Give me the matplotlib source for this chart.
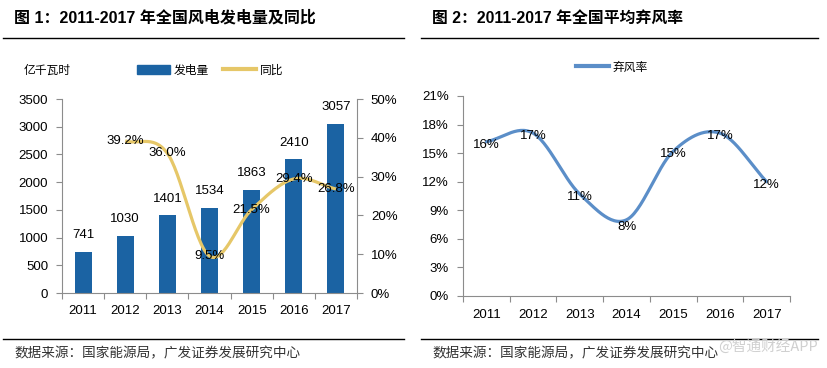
import numpy as np
import matplotlib
matplotlib.use("Agg")
import matplotlib.pyplot as plt
from matplotlib.lines import Line2D
from matplotlib.patches import Patch

plt.rcParams['font.family'] = ['Liberation Sans', 'Noto Sans CJK SC', 'DejaVu Sans']

# ---- data ----
years = ['2011', '2012', '2013', '2014', '2015', '2016', '2017']
generation = [741, 1030, 1401, 1534, 1863, 2410, 3057]
yoy_years_idx = [1, 2, 3, 4, 5, 6]
yoy = [39.2, 36.0, 9.5, 21.5, 29.4, 26.8]
curtail = [16.2, 17.1, 10.7, 8.0, 15.2, 17.1, 12.0]
curtail_labels = ['16%', '17%', '11%', '8%', '15%', '17%', '12%']

title1 = '图 1：2011-2017 年全国风电发电量及同比'
title2 = '图 2：2011-2017 年全国平均弃风率'
source = '数据来源：国家能源局，广发证券发展研究中心'

W, H = 827, 368
BAR = '#1b63a3'
GOLD = '#e6c768'
LBLUE = '#5b8ec8'
SPINE = '#8c8c8c'
CJK = ['Noto Sans CJK SC', 'DejaVu Sans']


def smooth(xs, ys, n=30):
    xs = np.asarray(xs, float); ys = np.asarray(ys, float)
    px = np.concatenate([[2 * xs[0] - xs[1]], xs, [2 * xs[-1] - xs[-2]]])
    py = np.concatenate([[2 * ys[0] - ys[1]], ys, [2 * ys[-1] - ys[-2]]])
    ox, oy = [], []
    for i in range(1, len(px) - 2):
        t = np.linspace(0, 1, n, endpoint=False) if i < len(px) - 3 else np.linspace(0, 1, n)
        for arr, out in ((px, ox), (py, oy)):
            p0, p1, p2, p3 = arr[i - 1], arr[i], arr[i + 1], arr[i + 2]
            out.extend(0.5 * ((2 * p1) + (-p0 + p2) * t + (2 * p0 - 5 * p1 + 4 * p2 - p3) * t ** 2
                              + (-p0 + 3 * p1 - 3 * p2 + p3) * t ** 3))
    return np.array(ox), np.array(oy)


def px_axes(l, t, r, b):
    return fig.add_axes([l / W, (H - b) / H, (r - l) / W, (b - t) / H])


fig = plt.figure(figsize=(W / 100, H / 100), dpi=100)

# titles, rules, sources
fig.text(14 / W, 1 - 18 / H, title1, fontsize=11.5, fontweight='bold', va='center', ha='left', family=['Liberation Sans', 'Noto Sans CJK SC'])
fig.text(432 / W, 1 - 18 / H, title2, fontsize=11.4, fontweight='bold', va='center', ha='left', family=['Liberation Sans', 'Noto Sans CJK SC'])
for x0, x1 in ((3, 404), (421, 818)):
    for y in (38, 339):
        fig.add_artist(Line2D([x0 / W, x1 / W], [1 - y / H, 1 - y / H], color='black', lw=1.0))
fig.text(14 / W, 1 - 353 / H, source, fontsize=9.8, va='center', ha='left', family=CJK, color='#333333')
fig.text(432 / W, 1 - 353 / H, source, fontsize=9.8, va='center', ha='left', family=CJK, color='#333333')
fig.text(818 / W, 1 - 346 / H, '@智通财经APP', fontsize=10.5, va='center', ha='right', family=CJK, color='#d0d0d0')

# ---- chart 1 ----
ax = px_axes(62, 99, 357, 293)
x = np.arange(len(years))
ax.bar(x, generation, width=0.4, color=BAR, zorder=2)
ax.set_xlim(-0.5, len(years) - 0.5)
ax.set_ylim(0, 3500)
ax.set_yticks(np.arange(0, 3501, 500))
ax.set_xticks(np.arange(-0.5, len(years), 1.0))
ax.set_xticklabels([])
ax.set_xticks(x, minor=True)
ax.set_xticklabels(years, minor=True)
ax.tick_params(axis='x', which='major', length=4, color=SPINE, direction='out')
ax.tick_params(axis='x', which='minor', length=0, pad=9, labelsize=9.5)
ax.tick_params(axis='y', length=4, color=SPINE, labelsize=9.5, pad=6)
for s in ('top', 'right'):
    ax.spines[s].set_visible(False)
for s in ('left', 'bottom'):
    ax.spines[s].set_color(SPINE)
for xi, v in zip(x, generation):
    ax.text(xi, v + 190, str(v), ha='center', va='bottom', fontsize=9.5)

ax2 = ax.twinx()
ax2.set_ylim(0, 50)
ax2.set_yticks(np.arange(0, 51, 10))
ax2.set_yticklabels([f'{v}%' for v in range(0, 51, 10)])
ax2.tick_params(axis='y', length=4, color=SPINE, labelsize=9.5, pad=6)
for s in ('top', 'left', 'bottom'):
    ax2.spines[s].set_visible(False)
ax2.spines['right'].set_color(SPINE)
sx, sy = smooth(yoy_years_idx, yoy)
ax2.plot(sx, sy, color=GOLD, lw=2.3, zorder=3, solid_capstyle='butt')
for xi, v in zip(yoy_years_idx, yoy):
    ax2.text(xi, v, f'{v:.1f}%', ha='center', va='center', fontsize=9.5, zorder=4)

fig.text(24 / W, 1 - 70 / H, '亿千瓦时', fontsize=8.5, va='center', ha='left', family=CJK)
leg = fig.legend(handles=[Patch(color=BAR), Line2D([0], [0], color=GOLD, lw=3)],
                 labels=['发电量', '同比'], loc='center', bbox_to_anchor=(210 / W, 1 - 70 / H),
                 ncol=2, frameon=False, prop={'family': CJK, 'size': 8.5},
                 handlelength=2.8, handleheight=0.8, handletextpad=0.3, columnspacing=1.2)

# ---- chart 2 ----
bx = px_axes(463, 96, 790, 296)
sx, sy = smooth(x, curtail)
bx.plot(sx, sy, color=LBLUE, lw=2.3, solid_capstyle='round', label='弃风率')
bx.set_xlim(-0.5, len(years) - 0.5)
bx.set_ylim(0, 21)
bx.set_yticks(np.arange(0, 22, 3))
bx.set_yticklabels([f'{v}%' for v in range(0, 22, 3)])
bx.set_xticks(np.arange(-0.5, len(years), 1.0))
bx.set_xticklabels([])
bx.set_xticks(x, minor=True)
bx.set_xticklabels(years, minor=True)
bx.tick_params(axis='x', which='major', length=4, color=SPINE, direction='out')
bx.tick_params(axis='x', which='minor', length=0, pad=9, labelsize=9.5)
bx.tick_params(axis='y', length=4, color=SPINE, labelsize=9.5, pad=6)
for s in ('top', 'right'):
    bx.spines[s].set_visible(False)
for s in ('left', 'bottom'):
    bx.spines[s].set_color(SPINE)
for xi, v, lab in zip(x, curtail, curtail_labels):
    off = 0.8 if lab == '8%' else 0.3
    bx.text(xi, v - off, lab, ha='center', va='center', fontsize=9.5)
fig.legend(handles=[Line2D([0], [0], color=LBLUE, lw=3)], labels=['弃风率'], loc='center',
           bbox_to_anchor=(612 / W, 1 - 67 / H), frameon=False, prop={'family': CJK, 'size': 8.5},
           handlelength=2.8, handletextpad=0.3)

fig.savefig('out.png', dpi=100)
